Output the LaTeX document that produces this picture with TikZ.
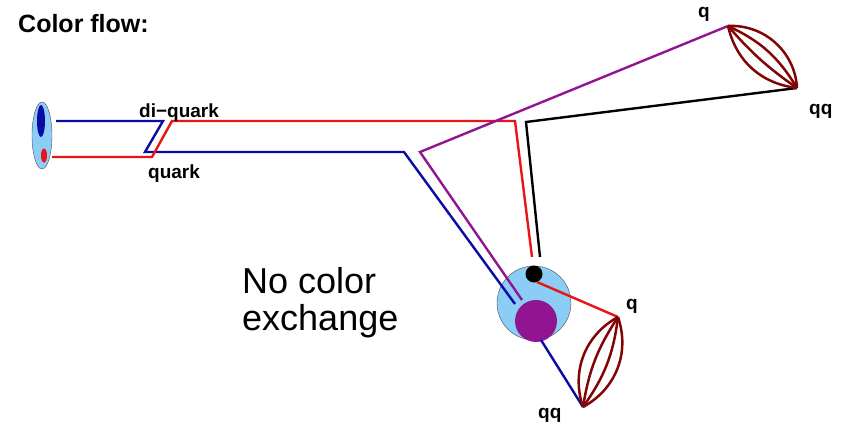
\documentclass[tikz,border=0pt]{standalone}
\usepackage{fontspec}
\setmainfont{Liberation Sans}
\usetikzlibrary{shapes.geometric}
\definecolor{qblue}{RGB}{10,10,165}
\definecolor{qred}{RGB}{235,20,20}
\definecolor{qpurple}{RGB}{145,20,145}
\definecolor{qlight}{RGB}{140,205,245}
\definecolor{qstring}{RGB}{130,5,5}
\tikzset{
  flow/.style={line width=2.4pt, line join=miter},
  strand/.style={line width=2.5pt, color=qstring},
  lbl/.style={font=\fontsize{19}{19}\selectfont\bfseries, inner sep=0pt},
}
\begin{document}
\begin{tikzpicture}[x=1pt,y=-1pt]
\useasboundingbox (0,0) rectangle (851,428);

% title
\node[font=\fontsize{25}{25}\selectfont\bfseries, anchor=base west, inner sep=0pt] (title) at (18,33) {Color flow:};

% incoming proton
\node[ellipse, draw=black!70, line width=0.4pt, fill=qlight, minimum width=20pt, minimum height=67pt, inner sep=0pt] (proton) at (42,135.5) {};
\node[ellipse, fill=qblue, minimum width=8pt, minimum height=32pt, inner sep=0pt] (pdiq) at (41,121) {};
\node[ellipse, fill=qred, minimum width=6pt, minimum height=14pt, inner sep=0pt] (pq) at (44,155.5) {};

% corner points of the colour lines
\coordinate (b1) at (56,121);
\coordinate (b2) at (163,121);
\coordinate (b3) at (145,152);
\coordinate (b4) at (404,152);
\coordinate (b5) at (515,304);
\coordinate (b6) at (541,340);
\coordinate (r1) at (52,157);
\coordinate (r2) at (152,157);
\coordinate (r3) at (172,121);
\coordinate (r4) at (515,121);
\coordinate (r5) at (532,257);
\coordinate (r6) at (537,282);
\coordinate (p1) at (522,300);
\coordinate (p2) at (420,152);
\coordinate (k1) at (540,257);
\coordinate (k2) at (526,122);

% string end points
\coordinate (qT) at (728,26);
\coordinate (qqT) at (797,88);
\coordinate (qB) at (618,317);
\coordinate (qqB) at (583,407);

% remnant blob
\node[circle, draw=black!70, line width=0.4pt, fill=qlight, minimum size=74pt, inner sep=0pt] (remnant) at (534,303) {};

% colour lines
\draw[flow, qblue] (b1) -- (b2) -- (b3) -- (b4) -- (b5);
\draw[flow, qred] (r1) -- (r2) -- (r3) -- (r4) -- (r5);
\draw[flow, qpurple] (p1) -- (p2) -- (qT);
\draw[flow, black] (k1) -- (k2) -- (qqT);

% partons inside the remnant
\node[circle, fill=black, minimum size=17pt, inner sep=0pt] (rq) at (534,274) {};
\node[circle, fill=qpurple, minimum size=42pt, inner sep=0pt] (rdiq) at (536,321) {};

\draw[flow, qred] (r6) -- (qB);
\draw[flow, qblue] (b6) -- (qqB);

% strings
\draw[strand] (qT) to[bend left=45] (qqT);
\draw[strand] (qT) to[bend left=17] (qqT);
\draw[strand] (qT) to[bend right=7] (qqT);
\draw[strand] (qT) to[bend right=35] (qqT);
\draw[strand] (qB) to[bend left=40] (qqB);
\draw[strand] (qB) to[bend left=14] (qqB);
\draw[strand] (qB) to[bend right=12] (qqB);
\draw[strand] (qB) to[bend right=40] (qqB);

% labels
\node[lbl, anchor=base west] (ldiq) at (139,117) {di−quark};
\node[lbl, anchor=base west] (lq) at (148,178) {quark};
\node[lbl, anchor=base west] (lqT) at (698,18) {q};
\node[lbl, anchor=base west] (lqqT) at (809,114) {qq};
\node[lbl, anchor=base west] (lqB) at (626,309) {q};
\node[lbl, anchor=base west] (lqqB) at (538,418) {qq};

\node[font=\fontsize{36}{37}\selectfont, anchor=north west, align=left, inner sep=0pt] (nocol) at (242,267) {No color\\exchange};
\end{tikzpicture}
\end{document}
